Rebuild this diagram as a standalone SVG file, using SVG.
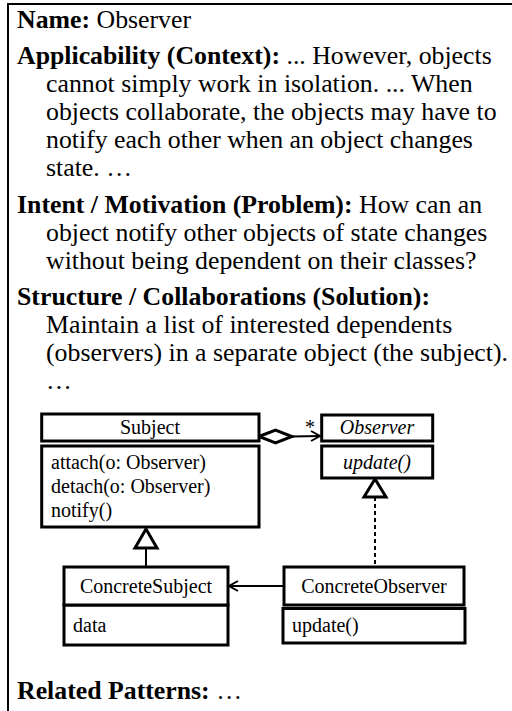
<svg xmlns="http://www.w3.org/2000/svg" width="512" height="711" viewBox="0 0 512 711">
<style>
text{font-family:"Liberation Serif","Times New Roman",serif;fill:#000}
.t{font-size:25.8px}
.b{font-weight:bold}
.u{font-size:20px}
.i{font-style:italic}
.box{fill:#fff;stroke:#000;stroke-width:3}
.ln{fill:none;stroke:#000;stroke-width:2}
.hd{fill:#fff;stroke:#000;stroke-width:3}
</style>
<rect width="512" height="711" fill="#fff"/>
<g id="frame"><path d="M8,711 V4 H512" fill="none" stroke="#000" stroke-width="2"/></g>
<g id="description" class="t">
<text x="17" y="28"><tspan class="b">Name:</tspan> Observer</text>
<text x="17" y="64"><tspan class="b">Applicability (Context):</tspan> ... However, objects</text>
<text x="46" y="92">cannot simply work in isolation. ... When</text>
<text x="46" y="120">objects collaborate, the objects may have to</text>
<text x="46" y="148">notify each other when an object changes</text>
<text x="46" y="176">state. …</text>
<text x="17" y="213"><tspan class="b">Intent / Motivation (Problem):</tspan> How can an</text>
<text x="46" y="241">object notify other objects of state changes</text>
<text x="46" y="269">without being dependent on their classes?</text>
<text x="17" y="305" class="b">Structure / Collaborations (Solution):</text>
<text x="46" y="333">Maintain a list of interested dependents</text>
<text x="46" y="361">(observers) in a separate object (the subject).</text>
<text x="46" y="389">…</text>
<text x="17" y="699"><tspan class="b">Related Patterns:</tspan> …</text>
</g>
<g id="connectors">
<path class="ln" d="M292,436.5 L320,436"/>
<path class="ln" d="M311,431 L320,436 L311,441"/>
<path d="M259,436.5 L275.5,430 L292,436.5 L275.5,443 Z" fill="#fff" stroke="#000" stroke-width="3"/>
<text x="305" y="434" class="u">*</text>
<path class="ln" d="M146,548 V567"/>
<path d="M146,529 L135,548 L157,548 Z" fill="#fff" stroke="#000" stroke-width="3"/>
<path class="ln" d="M375,497 V567" stroke-dasharray="4,3"/>
<path d="M375,479 L364,497 L386,497 Z" fill="#fff" stroke="#000" stroke-width="3"/>
<path class="ln" d="M284,586 H229"/>
<path class="ln" d="M238,581 L229,586 L238,591"/>
</g>
<g id="subject">
<rect class="box" x="41.7" y="446" width="217.3" height="81"/>
<rect class="hd" x="41.7" y="414" width="217.3" height="27"/>
<text class="u" x="150" y="434" text-anchor="middle">Subject</text>
<text class="u" x="51" y="469">attach(o: Observer)</text>
<text class="u" x="51" y="493">detach(o: Observer)</text>
<text class="u" x="51" y="517">notify()</text>
</g>
<g id="observer">
<rect class="box" x="321.7" y="446" width="111" height="32"/>
<rect class="hd" x="321.7" y="415" width="111" height="26"/>
<text class="u i" x="377" y="434" text-anchor="middle">Observer</text>
<text class="u i" x="377" y="469" text-anchor="middle">update()</text>
</g>
<g id="concrete-subject">
<rect class="box" x="64" y="605" width="164" height="40"/>
<rect class="hd" x="64" y="567" width="164" height="38"/>
<text class="u" x="146" y="593" text-anchor="middle">ConcreteSubject</text>
<text class="u" x="73" y="632">data</text>
</g>
<g id="concrete-observer">
<rect class="box" x="283" y="608.5" width="182" height="34.5"/>
<rect class="hd" x="284" y="567" width="180" height="38"/>
<text class="u" x="374" y="593" text-anchor="middle">ConcreteObserver</text>
<text class="u" x="292" y="632">update()</text>
</g>
</svg>
